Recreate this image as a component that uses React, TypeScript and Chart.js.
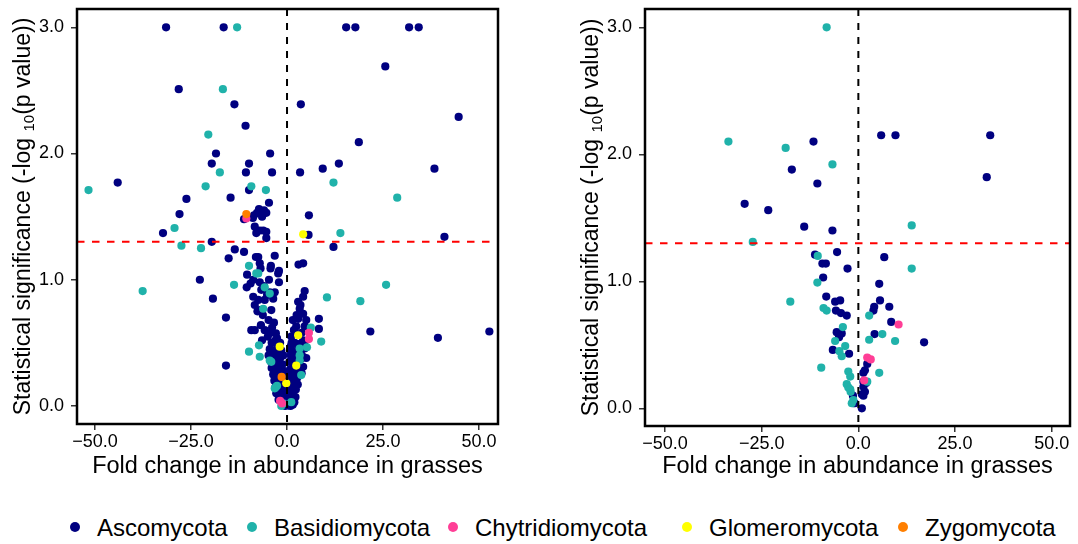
import React, { useEffect, useRef } from "react";
import { Chart, registerables } from "chart.js";

Chart.register(...registerables);

type Pt = [number, number];

const FONT = '"Liberation Sans", Arial, Helvetica, sans-serif';

const phyla = ["Ascomycota", "Basidiomycota", "Chytridiomycota", "Glomeromycota", "Zygomycota"];
const phylumColors = ["#000080", "#20B2AA", "#FF3E96", "#FFFF00", "#FF7F00"];
const xTicks = [-50, -25, 0, 25, 50];
const yTicks = [0, 1, 2, 3];
const xTitle = "Fold change in abundance in grasses";
const yTitleMain = "Statistical significance (-log ";
const yTitleSub = "10";
const yTitleEnd = "(p value))";
const sigThreshold = 1.3;

// ---------- left panel ----------
const leftAsco: Pt[] = [
  [-31.5, 3.0], [-16.5, 3.0], [15.4, 3.0], [17.8, 3.0], [31.8, 3.0], [34.3, 3.0],
  [-28.2, 2.51], [25.6, 2.69], [-13.7, 2.39], [3.6, 2.39], [44.7, 2.29], [-10.8, 2.22], [18.7, 2.09],
  [-18.5, 2.0], [-4.4, 2.0], [-19.6, 1.92], [-9.9, 1.92], [13.5, 1.92], [-10.7, 1.85], [-3.9, 1.85],
  [3.4, 1.85], [9.3, 1.88], [38.4, 1.88],
  [-44.1, 1.77], [-9.9, 1.71], [-14.7, 1.65], [-26.2, 1.64], [-4.7, 1.61], [-28.0, 1.52], [-7.3, 1.56],
  [-5.4, 1.53], [5.7, 1.51],
  [-8.6, 1.51], [-7.8, 1.53], [-6.5, 1.5], [-8.9, 1.49], [-11.2, 1.48], [-6.0, 1.55],
  [-8.4, 1.42], [-7.1, 1.39], [-6.2, 1.39], [-5.4, 1.38], [-8.0, 1.37], [-5.4, 1.33],
  [-32.3, 1.37], [5.6, 1.355], [41.0, 1.34], [-19.6, 1.3], [12.1, 1.26],
  [-13.6, 1.24], [-11.2, 1.22], [-15.2, 1.17], [-8.1, 1.18], [-7.5, 1.18], [-3.2, 1.19], [-7.1, 1.13],
  [-6.9, 1.09], [-4.3, 1.09], [-2.1, 1.07], [-2.3, 1.05], [3.0, 1.12], [4.2, 1.13], [-4.2, 1.11],
  [-22.7, 1.0], [-10.5, 0.94], [-8.8, 1.0], [-7.1, 0.98], [-4.7, 1.0], [-2.1, 0.98], [-6.7, 0.92],
  [-4.5, 0.9], [-3.2, 0.9], [-8.8, 0.865], [-5.8, 0.84], [-3.6, 0.85], [-19.3, 0.85], [-8.4, 0.8],
  [-7.1, 0.76], [-4.1, 0.76], [-7.7, 0.75], [-15.9, 0.7], [-3.4, 0.66], [-9.3, 0.6], [-8.4, 0.6],
  [-5.8, 0.6], [-2.9, 0.575], [-2.6, 0.535], [-15.9, 0.32],
  [-6.0, 0.95], [-5.2, 0.88], [-7.5, 0.84], [-6.3, 0.72], [-4.8, 0.68], [-6.8, 0.64], [-3.9, 0.62],
  [-5.0, 0.55], [-4.2, 0.58], [-6.5, 0.52], [-10.4, 1.04], [-9.5, 0.97],
  [4.6, 0.91], [4.2, 0.865], [2.9, 0.825], [3.3, 0.77], [4.2, 0.73], [2.9, 0.69], [5.0, 0.68],
  [8.3, 0.69], [2.4, 0.63], [4.6, 0.63], [8.3, 0.61], [1.1, 0.55], [4.2, 0.52], [1.0, 0.475],
  [2.9, 0.455], [4.6, 0.455], [4.2, 0.39], [5.0, 0.38], [4.2, 0.31], [21.7, 0.59], [39.3, 0.54],
  [52.7, 0.59],
  [3.5, 0.8], [2.5, 0.72], [3.8, 0.58], [2.0, 0.5], [3.6, 0.42], [2.2, 0.36], [1.8, 0.6], [1.5, 0.68],
  [-4.0, 0.5], [-3.0, 0.52], [-1.8, 0.5],
  [-4.5, 0.45], [-3.5, 0.44], [-2.5, 0.46], [-1.5, 0.44],
  [-4.8, 0.4], [-3.8, 0.39], [-2.8, 0.41], [-1.8, 0.38], [-1.0, 0.4],
  [-4.2, 0.35], [-3.2, 0.34], [-2.2, 0.35], [-1.2, 0.33],
  [-4.0, 0.3], [-3.0, 0.29], [-2.0, 0.3], [-1.0, 0.28],
  [-3.6, 0.25], [-2.6, 0.24], [-1.7, 0.25], [-0.8, 0.23],
  [-3.3, 0.2], [-2.4, 0.19], [-1.4, 0.18], [-0.6, 0.2],
  [-3.0, 0.15], [-2.2, 0.14], [-1.3, 0.13], [-0.5, 0.15],
  [-2.8, 0.1], [-2.0, 0.09], [-1.2, 0.08], [-0.5, 0.1],
  [-2.2, 0.05], [-1.5, 0.04], [-0.8, 0.05], [-0.3, 0.03],
  [-1.2, 0.01], [-0.5, 0.0], [0.3, 0.005],
  [1.2, 0.5], [3.0, 0.49], [4.5, 0.5],
  [0.8, 0.44], [2.0, 0.43], [3.8, 0.45],
  [1.0, 0.4], [2.5, 0.4], [3.5, 0.37],
  [0.6, 0.35], [1.6, 0.34], [3.0, 0.33],
  [0.8, 0.29], [1.8, 0.28], [3.2, 0.27],
  [0.5, 0.24], [1.5, 0.23], [2.6, 0.22], [3.8, 0.26],
  [0.7, 0.19], [1.7, 0.18], [2.8, 0.17],
  [0.4, 0.15], [1.3, 0.14], [2.3, 0.13],
  [0.6, 0.1], [1.5, 0.09], [2.2, 0.07],
  [0.4, 0.05], [1.2, 0.04], [1.9, 0.03],
  [0.9, 0.0], [1.5, 0.01],
];
const leftBasidio: Pt[] = [
  [-13.0, 3.0], [-16.7, 2.51], [-20.5, 2.15], [-17.5, 1.85], [-51.7, 1.71], [-21.2, 1.74], [-9.3, 1.74],
  [-5.5, 1.71], [12.1, 1.77], [28.7, 1.65], [-29.3, 1.41], [13.9, 1.37], [-27.5, 1.27], [-22.4, 1.25],
  [-9.9, 1.11], [-7.5, 1.05], [-37.6, 0.91], [-13.8, 0.96], [-4.5, 0.89], [-6.2, 0.77], [25.8, 0.96],
  [10.4, 0.86], [19.1, 0.83], [8.9, 0.51], [6.2, 0.62], [-9.9, 0.43], [-7.3, 0.48], [-7.1, 0.39],
  [-4.1, 0.35], [3.3, 0.455], [5.2, 0.465], [3.3, 0.4], [3.7, 0.245], [3.3, 0.36], [-4.5, 0.36],
  [-8.0, 1.05], [-5.8, 0.94], [-2.6, 0.16], [-2.9, 0.15], [-1.5, 0.0], [-1.0, 0.02], [1.1, 0.03],
  [-3.2, 0.14],
];
const leftChytrid: Pt[] = [[-10.6, 1.485], [5.7, 0.58], [5.7, 0.53], [-1.3, 0.02], [-1.8, 0.04]];
const leftGlomero: Pt[] = [[4.2, 1.36], [2.9, 0.56], [2.4, 0.32], [-1.9, 0.47], [-0.2, 0.18]];
const leftZygo: Pt[] = [[-10.6, 1.52], [-1.4, 0.23]];

// ---------- right panel ----------
const rightAsco: Pt[] = [
  [-11.6, 2.1], [-17.2, 1.88], [-10.6, 1.77], [-29.4, 1.61], [-23.3, 1.56], [-14.0, 1.43], [-6.7, 1.4],
  [5.9, 2.15], [9.6, 2.15], [34.1, 2.15], [33.2, 1.82],
  [-11.2, 1.21], [-5.5, 1.23], [6.7, 1.19], [-9.3, 1.14], [-8.4, 1.14], [-2.8, 1.1], [-9.1, 1.03],
  [5.4, 0.98], [-8.3, 0.88], [-6.0, 0.84], [-4.7, 0.85], [5.6, 0.85], [-5.8, 0.77], [-4.5, 0.75],
  [-3.0, 0.73], [4.1, 0.8], [3.9, 0.77], [8.0, 0.8], [8.5, 0.68], [-5.6, 0.6], [-4.3, 0.59],
  [-5.0, 0.56], [4.2, 0.585], [17.0, 0.52], [-6.6, 0.46], [-2.4, 0.43], [2.3, 0.35], [1.7, 0.3],
  [1.3, 0.28], [1.3, 0.21], [2.0, 0.2], [1.3, 0.17], [1.7, 0.13], [1.3, 0.1], [0.9, 0.11],
  [-1.3, 0.04], [-1.4, 0.1], [0.9, 0.0], [-0.9, 0.04],
];
const rightBasidio: Pt[] = [
  [-8.2, 3.0], [-33.6, 2.1], [-18.8, 2.05], [-6.7, 1.92], [-27.3, 1.31], [13.8, 1.44], [-10.5, 1.2],
  [13.8, 1.1], [-10.6, 0.99], [-17.6, 0.84], [-9.0, 0.79], [-8.2, 0.77], [2.8, 0.73], [-4.0, 0.64],
  [6.2, 0.585], [2.8, 0.54], [9.5, 0.53], [-6.0, 0.53], [-3.4, 0.49], [-4.9, 0.45], [-4.3, 0.41],
  [-9.6, 0.32], [5.4, 0.28], [-2.6, 0.29], [-2.1, 0.25], [-3.0, 0.19], [-2.6, 0.165], [2.3, 0.21],
  [-2.0, 0.13], [-1.3, 0.065], [-1.7, 0.04], [-2.1, 0.15],
];
const rightChytrid: Pt[] = [[10.4, 0.66], [2.3, 0.4], [3.2, 0.385], [1.5, 0.22]];
const rightGlomero: Pt[] = [];
const rightZygo: Pt[] = [];

interface PanelSpec {
  left: number; // canvas left on page
  W: number;
  H: number;
  area: { left: number; top: number; right: number; bottom: number };
  xRange: [number, number];
  yRange: [number, number];
  sets: Pt[][];
}

const POINT_R = 4.1;

const fmtTick = (v: any) => Number(v).toFixed(1).replace("-", "\u2212");

function buildChart(canvas: HTMLCanvasElement, p: PanelSpec) {
  const datasets = phyla.map((name, i) => ({
    label: name,
    data: p.sets[i].map(([x, y]) => ({ x, y })),
    pointRadius: POINT_R,
    pointHoverRadius: POINT_R,
    pointBackgroundColor: phylumColors[i],
    backgroundColor: phylumColors[i],
    pointBorderWidth: 0,
    borderWidth: 0,
    order: phyla.length - i,
  }));

  const overlay = {
    id: "overlay",
    afterDatasetsDraw(chart: any) {
      const { ctx, chartArea: a, scales } = chart;
      ctx.save();
      ctx.lineWidth = 2;
      ctx.strokeStyle = "#000";
      ctx.setLineDash([7, 7]);
      const x0 = scales.x.getPixelForValue(0);
      ctx.beginPath();
      ctx.moveTo(x0, a.top);
      ctx.lineTo(x0, a.bottom);
      ctx.stroke();
      ctx.strokeStyle = "#FF0000";
      ctx.setLineDash([7.5, 7.5]);
      const yS = scales.y.getPixelForValue(sigThreshold);
      ctx.beginPath();
      ctx.moveTo(a.left, yS);
      ctx.lineTo(a.right, yS);
      ctx.stroke();
      ctx.restore();
    },
    afterDraw(chart: any) {
      const { ctx, chartArea: a } = chart;
      ctx.save();
      ctx.strokeStyle = "#000";
      ctx.lineWidth = 2.5;
      ctx.setLineDash([]);
      ctx.strokeRect(a.left, a.top, a.right - a.left, a.bottom - a.top);

      ctx.fillStyle = "#000";
      ctx.font = `23.5px ${FONT}`;
      ctx.textAlign = "center";
      ctx.textBaseline = "alphabetic";
      ctx.fillText(xTitle, (a.left + a.right) / 2, 473);

      const mainFont = `23px ${FONT}`;
      const subFont = `15px ${FONT}`;
      ctx.font = mainFont;
      const w1 = ctx.measureText(yTitleMain).width;
      const w3 = ctx.measureText(yTitleEnd).width;
      ctx.font = subFont;
      const w2 = ctx.measureText(yTitleSub).width;
      const total = w1 + w2 + w3;
      ctx.translate(30, (a.top + a.bottom) / 2);
      ctx.rotate(-Math.PI / 2);
      ctx.textAlign = "left";
      let cx = -total / 2;
      ctx.font = mainFont;
      ctx.fillText(yTitleMain, cx, 0);
      cx += w1;
      ctx.font = subFont;
      ctx.fillText(yTitleSub, cx, 4);
      cx += w2;
      ctx.font = mainFont;
      ctx.fillText(yTitleEnd, cx, 0);
      ctx.restore();
    },
  };

  const tickFont = { family: FONT, size: 18 };
  const grid = {
    display: true,
    drawOnChartArea: false,
    drawTicks: true,
    tickLength: 6,
    color: "#333",
    lineWidth: 1.5,
  };

  return new Chart(canvas, {
    type: "scatter",
    data: { datasets },
    options: {
      animation: false,
      responsive: false,
      devicePixelRatio: 1,
      events: [],
      layout: { padding: { top: p.area.top, right: p.W - p.area.right, left: 0, bottom: 0 } },
      plugins: { legend: { display: false }, tooltip: { enabled: false } },
      scales: {
        x: {
          type: "linear",
          min: p.xRange[0],
          max: p.xRange[1],
          afterBuildTicks: (s: any) => {
            s.ticks = xTicks.map((v) => ({ value: v }));
          },
          afterFit: (s: any) => {
            s.height = p.H - p.area.bottom;
            s.paddingLeft = 0;
            s.paddingRight = 0;
            s.paddingTop = 0;
            s.paddingBottom = 0;
          },
          ticks: {
            autoSkip: false,
            maxRotation: 0,
            padding: 1,
            color: "#000",
            font: tickFont,
            callback: fmtTick,
          },
          grid,
          border: { display: false },
        },
        y: {
          type: "linear",
          min: p.yRange[0],
          max: p.yRange[1],
          afterBuildTicks: (s: any) => {
            s.ticks = yTicks.map((v) => ({ value: v }));
          },
          afterFit: (s: any) => {
            s.width = p.area.left;
            s.paddingLeft = 0;
            s.paddingRight = 0;
            s.paddingTop = 0;
            s.paddingBottom = 0;
          },
          ticks: {
            autoSkip: false,
            padding: 7,
            color: "#000",
            font: tickFont,
            callback: fmtTick,
          },
          grid,
          border: { display: false },
        },
      },
    },
    plugins: [overlay],
  } as any);
}

const leftSpec: PanelSpec = {
  left: 0,
  W: 545,
  H: 490,
  area: { left: 77, top: 9, right: 498, bottom: 424 },
  xRange: [-54.7, 54.95],
  yRange: [-0.143, 3.145],
  sets: [leftAsco, leftBasidio, leftChytrid, leftGlomero, leftZygo],
};

const rightSpec: PanelSpec = {
  left: 568,
  W: 510,
  H: 490,
  area: { left: 77, top: 9, right: 502, bottom: 426 },
  xRange: [-55.17, 54.73],
  yRange: [-0.139, 3.144],
  sets: [rightAsco, rightBasidio, rightChytrid, rightGlomero, rightZygo],
};

function Panel({ spec }: { spec: PanelSpec }) {
  const ref = useRef<HTMLCanvasElement | null>(null);
  useEffect(() => {
    if (!ref.current) return;
    const chart = buildChart(ref.current, spec);
    return () => chart.destroy();
  }, [spec]);
  return (
    <canvas
      ref={ref}
      width={spec.W}
      height={spec.H}
      style={{ position: "absolute", left: spec.left, top: 0, width: spec.W, height: spec.H }}
    />
  );
}

const legendDotX = [75, 252, 453, 687, 903];

function Legend() {
  return (
    <>
      {phyla.map((name, i) => (
        <React.Fragment key={name}>
          <div
            style={{
              position: "absolute",
              left: legendDotX[i] - 5.25,
              top: 527 - 5.25,
              width: 10.5,
              height: 10.5,
              borderRadius: "50%",
              background: phylumColors[i],
            }}
          />
          <div
            style={{
              position: "absolute",
              left: legendDotX[i] + 22,
              top: 516,
              font: `24px ${FONT}`,
              lineHeight: "24px",
              color: "#000",
              whiteSpace: "nowrap",
            }}
          >
            {name}
          </div>
        </React.Fragment>
      ))}
    </>
  );
}

export default function App() {
  return (
    <div
      style={{
        position: "fixed",
        left: 0,
        top: 0,
        width: 1078,
        height: 544,
        background: "#fff",
        overflow: "hidden",
      }}
    >
      <Panel spec={leftSpec} />
      <Panel spec={rightSpec} />
      <Legend />
    </div>
  );
}
